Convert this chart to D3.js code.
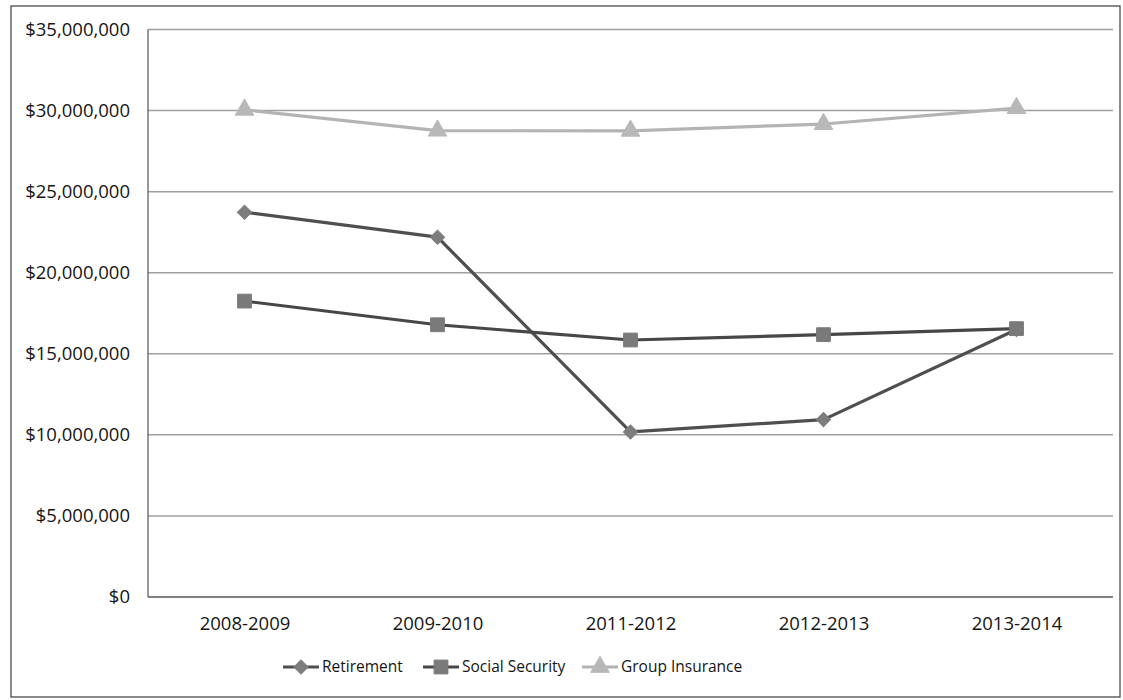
<!DOCTYPE html>
<html>
<head>
<meta charset="utf-8">
<script src="https://cdn.jsdelivr.net/npm/d3@7"></script>
<style>
  html, body { margin: 0; padding: 0; background: #fff; }
  svg { display: block; }
  text { font-family: "Open Sans", "Noto Sans", sans-serif; fill: #151515; }
</style>
</head>
<body>
<svg id="chart" width="1123" height="700"></svg>
<script>
// ---- data ----
const categories = ["2008-2009", "2009-2010", "2011-2012", "2012-2013", "2013-2014"];
const retirement = [23730000, 22190000, 10180000, 10940000, 16500000];
const socialSecurity = [18250000, 16790000, 15850000, 16180000, 16550000];
const groupInsurance = [30050000, 28760000, 28750000, 29170000, 30150000];
const yTicks = [0, 5000000, 10000000, 15000000, 20000000, 25000000, 30000000, 35000000];
const seriesNames = ["Retirement", "Social Security", "Group Insurance"];

const series = [
  { name: seriesNames[0], values: retirement, line: "#4f4f4f", fill: "#7d7d7d", marker: "diamond" },
  { name: seriesNames[1], values: socialSecurity, line: "#474747", fill: "#7a7a7a", marker: "square" },
  { name: seriesNames[2], values: groupInsurance, line: "#b4b4b4", fill: "#b8b8b8", marker: "triangle" }
];

const svg = d3.select("#chart");
const plot = { left: 148, right: 1113, top: 29.5, bottom: 597 };

// outer frame
svg.append("rect")
  .attr("x", 11).attr("y", 6).attr("width", 1109).attr("height", 691)
  .attr("fill", "none").attr("stroke", "#4a4a4a").attr("stroke-width", 1.3);

const x = d3.scalePoint().domain(categories).range([plot.left, plot.right]).padding(0.5);
const y = d3.scaleLinear().domain([0, 35000000]).range([plot.bottom, plot.top]);

// gridlines
const grid = svg.append("g");
grid.selectAll("line").data(yTicks).join("line")
  .attr("x1", plot.left).attr("x2", plot.right)
  .attr("y1", d => y(d)).attr("y2", d => y(d))
  .attr("stroke", d => d === 0 ? "#555" : "#a0a0a0")
  .attr("stroke-width", 1.5);

// left axis line
svg.append("line")
  .attr("x1", plot.left).attr("x2", plot.left)
  .attr("y1", plot.top).attr("y2", plot.bottom)
  .attr("stroke", "#555").attr("stroke-width", 1.2);

// y axis labels
const fmt = d => "$" + d3.format(",")(d);
const yAxis = d3.axisLeft(y).tickValues(yTicks).tickFormat(fmt).tickSize(0).tickPadding(18);
const yg = svg.append("g").attr("transform", `translate(${plot.left},0)`).call(yAxis);
yg.select(".domain").remove();
yg.selectAll("text").attr("font-size", 18.5).attr("font-family", "'Open Sans', sans-serif").attr("fill", "#151515");

// x axis labels
const xAxis = d3.axisBottom(x).tickSize(0).tickPadding(20);
const xg = svg.append("g").attr("transform", `translate(0,${plot.bottom})`).call(xAxis);
xg.select(".domain").remove();
xg.selectAll("text").attr("font-size", 18.5).attr("font-family", "'Open Sans', sans-serif").attr("fill", "#151515");

// markers
const symbolType = { diamond: d3.symbolSquare, square: d3.symbolSquare, triangle: d3.symbolTriangle };
const symbolSize = { diamond: 100, square: 190, triangle: 150 };
function marker(sel, s) {
  sel.attr("d", d3.symbol().type(symbolType[s.marker]).size(symbolSize[s.marker])())
    .attr("fill", s.fill).attr("stroke", s.fill).attr("stroke-width", 1);
}
const rot = s => s.marker === "diamond" ? " rotate(45)" : "";

const line = d3.line().x((d, i) => x(categories[i])).y(d => y(d));
series.forEach(s => {
  const g = svg.append("g");
  g.append("path").datum(s.values)
    .attr("d", line).attr("fill", "none")
    .attr("stroke", s.line).attr("stroke-width", 3.2).attr("stroke-linejoin", "round");
  g.selectAll("path.m").data(s.values).join("path").attr("class", "m")
    .attr("transform", (d, i) => `translate(${x(categories[i])},${y(d)})` + rot(s))
    .call(marker, s);
});

// legend
const legendStarts = [283, 423, 582];
const lg = svg.append("g").attr("transform", "translate(0,667)");
series.forEach((s, i) => {
  const x0 = legendStarts[i];
  const g = lg.append("g").attr("transform", `translate(${x0},0)`);
  g.append("line").attr("x1", 0).attr("x2", 36).attr("y1", 0).attr("y2", 0)
    .attr("stroke", s.line).attr("stroke-width", 3);
  g.append("path").attr("transform", "translate(18,0)" + rot(s)).call(marker, s);
  g.append("text").attr("x", 39).attr("y", 0).attr("dy", "0.35em")
    .attr("font-size", 15.5).text(s.name);
});
</script>
</body>
</html>
